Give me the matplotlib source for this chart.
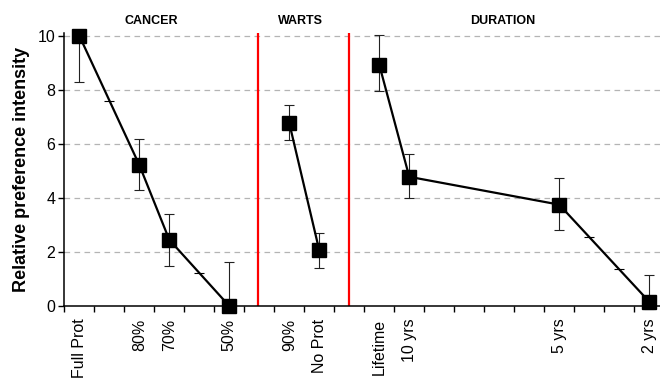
import numpy as np
import matplotlib
matplotlib.use("Agg")
import matplotlib.pyplot as plt
import matplotlib.transforms as mtransforms

plt.rcParams['font.family'] = ['Liberation Sans', 'DejaVu Sans']

# categories (x = category index + 0.5, as in a category axis)
tick_pos = [0.5, 2.5, 3.5, 5.5, 7.5, 8.5, 10.5, 11.5, 16.5, 19.5]
tick_labels = ['Full Prot', '80%', '70%', '50%', '90%', 'No Prot',
               'Lifetime', '10 yrs', '5 yrs', '2 yrs']

# cancer group
cancer_x = [0.5, 2.5, 3.5, 5.5]
cancer_y = [10.0, 5.22, 2.45, 0.0]
cancer_lo = [1.72, 0.93, 0.96, 0.0]
cancer_hi = [0.14, 0.95, 0.96, 1.61]

# warts group
warts_x = [7.5, 8.5]
warts_y = [6.77, 2.06]
warts_lo = [0.62, 0.66]
warts_hi = [0.66, 0.64]

# duration group
dur_x = [10.5, 11.5, 16.5, 19.5]
dur_y = [8.93, 4.78, 3.75, 0.16]
dur_lo = [0.99, 0.80, 0.95, 0.26]
dur_hi = [1.11, 0.84, 0.97, 0.99]

# small cap marks on the lines at empty categories
gap_x = [1.5, 4.5, 17.5, 18.5]
gap_y = [7.58, 1.23, 2.56, 1.36]

dividers = [6.47, 9.5]
groups = ['CANCER', 'WARTS', 'DURATION']
group_x = [2.91, 7.87, 14.62]

fig = plt.figure(figsize=(6.6, 3.79), dpi=100)
ax = fig.add_axes([64.3 / 660, 73 / 379, 1 - 64.3 / 660, 273 / 379])

ax.set_xlim(0, 19.86)
ax.set_ylim(0, 10.1)

for yv in [2, 4, 6, 8, 10]:
    ax.axhline(yv, color='#b4b4b4', lw=0.9, ls=(0, (4.5, 3.5)), zorder=0)

for xd in dividers:
    ax.axvline(xd, color='#ff0000', lw=1.6, zorder=1)

for xs, ys, lo, hi in [(cancer_x, cancer_y, cancer_lo, cancer_hi),
                       (warts_x, warts_y, warts_lo, warts_hi),
                       (dur_x, dur_y, dur_lo, dur_hi)]:
    ax.errorbar(xs, ys, yerr=[lo, hi], fmt='none', ecolor='#222222',
                elinewidth=0.8, capsize=3.5, capthick=0.8, zorder=2,
                clip_on=False)
    ax.plot(xs, ys, color='black', lw=1.6, marker='s', ms=9.5,
            mfc='black', mec='black', zorder=3, clip_on=False)

ax.plot(gap_x, gap_y, ls='none', marker='_', ms=7, mew=0.8,
        color='black', zorder=2)

# y axis
ax.set_yticks([0, 2, 4, 6, 8, 10])
ax.tick_params(axis='y', direction='out', length=4, width=1, pad=2.5,
               labelsize=11.5)
ax.set_ylabel('Relative preference intensity', fontsize=13,
              fontweight='bold')
ax.yaxis.set_label_coords(-0.058, 0.5)

# x axis: ticks between categories, labels at centres
ax.set_xticks(np.arange(0, 20))
ax.set_xticklabels([])
ax.tick_params(axis='x', which='major', direction='out', length=4, width=1)
ax.set_xticks(tick_pos, minor=True)
ax.set_xticklabels(tick_labels, minor=True, rotation=90, fontsize=11.5)
ax.tick_params(axis='x', which='minor', length=0, pad=9)
for lab in ax.get_xticklabels(minor=True):
    lab.set_verticalalignment('top')

for s in ['top', 'right']:
    ax.spines[s].set_visible(False)
for s in ['left', 'bottom']:
    ax.spines[s].set_linewidth(1.1)

trans = mtransforms.blended_transform_factory(ax.transData, ax.transAxes)
for name, gx in zip(groups, group_x):
    ax.text(gx, 1.045, name, transform=trans, ha='center', va='center',
            fontsize=9, fontweight='bold')

fig.savefig('out.png', dpi=100)
